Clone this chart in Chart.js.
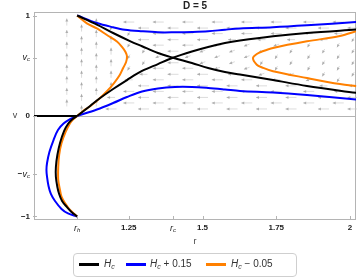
<!DOCTYPE html>
<html>
<head>
<meta charset="utf-8">
<script src="https://cdn.jsdelivr.net/npm/chart.js@4.4.1/dist/chart.umd.min.js"></script>
<style>
  body { margin: 0; background: #fff; }
  #wrap { position: relative; width: 357px; height: 278px; }
  #legend { position: absolute; left: 73px; top: 253px; width: 222px; height: 22px;
            border: 1px solid #cfcfcf; border-radius: 4px;
            font: 10px 'Liberation Sans', Arial, sans-serif; color: #333; }
  .item { position: absolute; top: 4px; white-space: nowrap; line-height: 12px; }
  .sw { position: absolute; top: 9px; width: 20px; height: 3px; }
  sub { font-size: 7px; vertical-align: -2px; line-height: 0; }
</style>
</head>
<body>
<div id="wrap">
  <canvas id="c"></canvas>
  <div id="legend">
    <span class="sw" style="left:5px;background:#000"></span>
    <span class="item" style="left:30px"><i>H</i><sub><i>c</i></sub></span>
    <span class="sw" style="left:52px;background:#0000ff"></span>
    <span class="item" style="left:76px"><i>H</i><sub><i>c</i></sub> + 0.15</span>
    <span class="sw" style="left:132px;background:#ff8000"></span>
    <span class="item" style="left:157px"><i>H</i><sub><i>c</i></sub> &minus; 0.05</span>
  </div>
</div>
<script>
// special points
const rH = 1.075, rC = 1.40, vC = 0.58;

// tick labels ("_" starts a subscript)
const xTickValues = [rH, 1.25, rC, 1.5, 1.75, 2];
const xTickLabels = ['r_h', '1.25', 'r_c', '1.5', '1.75', '2'];
const yTickValues = [1, vC, 0, -vC, -1];
const yTickLabels = ['1', 'v_c', '0', '\u2212v_c', '\u22121'];

// H = Hc curves (r, v)
const hcDown = [[1.075,1],[1.142,0.910],[1.197,0.826],[1.254,0.746],[1.295,0.694],[1.349,0.627],[1.400,0.580],
  [1.464,0.527],[1.519,0.478],[1.576,0.438],[1.627,0.413],[1.739,0.358],[1.854,0.299],[2.024,0.229]];
const hcUp = [[1.075,0],[1.119,0.100],[1.153,0.179],[1.197,0.269],[1.244,0.358],[1.295,0.448],[1.349,0.517],[1.400,0.580],
  [1.464,0.642],[1.519,0.687],[1.576,0.726],[1.627,0.751],[1.739,0.793],[1.854,0.826],[2.024,0.861]];
const hcLow = [[1.075,0],[1.058,-0.035],[1.045,-0.075],[1.031,-0.149],[1.017,-0.269],[1.008,-0.388],[1.003,-0.507],
  [1.003,-0.607],[1.008,-0.706],[1.014,-0.776],[1.024,-0.846],[1.040,-0.905],[1.054,-0.950],[1.075,-1]];
const hcAxis = [[0.9288,0],[1.075,0]];

// H = Hc + 0.15
const hpTop = [[1.075,1],[1.142,0.925],[1.197,0.883],[1.237,0.859],[1.295,0.843],[1.349,0.833],[1.407,0.833],
  [1.464,0.836],[1.519,0.843],[1.576,0.859],[1.627,0.871],[1.739,0.883],[1.854,0.902],[2.024,0.935]];
const hpMid = [[1.075,0],[1.142,0.065],[1.197,0.129],[1.244,0.189],[1.295,0.244],[1.349,0.274],[1.407,0.289],
  [1.464,0.289],[1.519,0.279],[1.576,0.264],[1.627,0.249],[1.739,0.234],[1.854,0.209],[2.024,0.164]];
const hpLow = [[1.075,0],[1.051,-0.030],[1.029,-0.075],[1.010,-0.139],[0.995,-0.239],[0.981,-0.358],[0.973,-0.468],
  [0.971,-0.537],[0.973,-0.607],[0.978,-0.697],[0.986,-0.776],[1.000,-0.846],[1.022,-0.925],[1.044,-0.970],[1.075,-1]];

// H = Hc - 0.05
const hmLoop = [[1.075,1],[1.108,0.922],[1.142,0.871],[1.176,0.806],[1.210,0.741],[1.227,0.687],[1.239,0.637],
  [1.244,0.592],[1.241,0.537],[1.231,0.478],[1.220,0.411],[1.200,0.328],[1.176,0.246],[1.149,0.169],[1.119,0.097],
  [1.095,0.050],[1.075,0]];
const hmRight = [[2.024,0.846],[1.966,0.796],[1.854,0.743],[1.739,0.677],[1.702,0.642],[1.684,0.617],[1.671,0.577],
  [1.684,0.510],[1.702,0.483],[1.739,0.445],[1.854,0.378],[1.966,0.318],[2.024,0.296]];
const hmLow = [[1.075,0],[1.061,-0.035],[1.051,-0.073],[1.036,-0.159],[1.022,-0.272],[1.014,-0.388],[1.011,-0.504],
  [1.011,-0.637],[1.017,-0.736],[1.022,-0.803],[1.034,-0.866],[1.051,-0.935],[1.075,-1]];

// vector field samples: columns in r, staggered rows in v, one code per arrow
const arrowR = [1.04,1.09,1.14,1.19,1.25,1.30,1.35,1.40,1.45,1.50,1.55,1.60,1.65,1.70,1.75,1.80,1.86,1.91,1.96,2.01];
const arrowVEven = [0.935,0.82,0.705,0.59,0.475,0.36,0.245,0.13];
const arrowVOdd = [0.875,0.76,0.645,0.53,0.415,0.30,0.185,0.07];
const arrowCodes = ['dddddddd','dddddddd','dddddddd','adddddml','laaaamll','llaamlll','lllsllll','llllllll',
  'lllsllll','llssllll','llmsslll','lmssmlll','llssslll','lmsaslll','llsaamll','lmaaslll','lmaaasll',
  'lmaaamll','lmaaaaml','laaaamll'];

const arrowStyle = {
  d: { angle: 270, len: 7 },
  l: { angle: 180, len: 11 },
  m: { angle: 180, len: 8 },
  s: { angle: 160, len: 6 },
  a: { angle: 120, len: 5 }
};

function drawArrow(ctx, cx, cy, angle, len) {
  const t = angle * Math.PI / 180, dx = Math.cos(t), dy = Math.sin(t);
  const tx = cx + dx * len / 2, ty = cy + dy * len / 2;
  ctx.strokeStyle = 'rgba(200,200,200,0.65)';
  ctx.lineWidth = 1;
  ctx.beginPath();
  ctx.moveTo(cx - dx * len / 2, cy - dy * len / 2);
  ctx.lineTo(tx, ty);
  ctx.stroke();
  ctx.fillStyle = 'rgba(150,150,150,0.7)';
  ctx.beginPath();
  ctx.moveTo(tx, ty);
  ctx.lineTo(tx - dx * 3 - dy * 1.5, ty - dy * 3 + dx * 1.5);
  ctx.lineTo(tx - dx * 3 + dy * 1.5, ty - dy * 3 - dx * 1.5);
  ctx.closePath();
  ctx.fill();
}

// label with optional italic letter + subscript
function drawLabel(ctx, text, x, y, align) {
  let parts;
  const k = text.indexOf('_');
  if (k < 0) {
    parts = [{ t: text, f: "bold 8px 'Liberation Sans', Arial, sans-serif", dy: 0 }];
  } else {
    const pre = text.slice(0, k - 1), letter = text[k - 1], sub = text.slice(k + 1);
    parts = [];
    if (pre) parts.push({ t: pre, f: "bold 8px 'Liberation Sans', Arial, sans-serif", dy: 0 });
    parts.push({ t: letter, f: "italic 9px 'Liberation Sans', Arial, sans-serif", dy: 0 });
    parts.push({ t: sub, f: "italic 6px 'Liberation Sans', Arial, sans-serif", dy: 2 });
  }
  let w = 0;
  parts.forEach(p => { ctx.font = p.f; p.w = ctx.measureText(p.t).width; w += p.w; });
  let sx = align === 'right' ? x - w : x - w / 2;
  ctx.textBaseline = 'middle';
  ctx.textAlign = 'left';
  parts.forEach(p => { ctx.font = p.f; ctx.fillText(p.t, sx, y + p.dy); sx += p.w; });
}

const fieldPlugin = {
  id: 'field',
  beforeDatasetsDraw(chart) {
    const { ctx, chartArea: a, scales: { x, y } } = chart;
    ctx.save();
    ctx.strokeStyle = '#b4b4b4';
    ctx.lineWidth = 1;
    ctx.strokeRect(a.left + 0.5, a.top + 0.5, a.right - a.left - 1, a.bottom - a.top - 1);
    const y0 = Math.round(y.getPixelForValue(0)) + 0.5;
    ctx.beginPath(); ctx.moveTo(a.left, y0); ctx.lineTo(a.right, y0); ctx.stroke();
    arrowR.forEach((r, i) => {
      const rows = i % 2 ? arrowVOdd : arrowVEven;
      rows.forEach((v, j) => {
        const st = arrowStyle[arrowCodes[i][j]];
        if (!st) return;
        drawArrow(ctx, x.getPixelForValue(r), y.getPixelForValue(v), st.angle, st.len);
      });
    });
    ctx.restore();
  },
  afterDraw(chart) {
    const { ctx, chartArea: a, scales: { x, y } } = chart;
    ctx.save();
    ctx.strokeStyle = '#b4b4b4';
    ctx.lineWidth = 1;
    xTickValues.forEach(v => {
      const px = Math.round(x.getPixelForValue(v)) + 0.5;
      ctx.beginPath(); ctx.moveTo(px, a.bottom); ctx.lineTo(px, a.bottom - 4); ctx.stroke();
    });
    yTickValues.forEach(v => {
      const py = Math.round(y.getPixelForValue(v)) + 0.5;
      ctx.beginPath(); ctx.moveTo(a.left - 1, py); ctx.lineTo(a.left + 3, py); ctx.stroke();
    });
    ctx.fillStyle = '#222';
    xTickValues.forEach((v, i) => drawLabel(ctx, xTickLabels[i], x.getPixelForValue(v), a.bottom + 8, 'center'));
    yTickValues.forEach((v, i) => drawLabel(ctx, yTickLabels[i], a.left - 4, y.getPixelForValue(v), 'right'));
    ctx.textAlign = 'center';
    ctx.textBaseline = 'middle';
    ctx.font = "bold 10px 'Liberation Sans', Arial, sans-serif";
    ctx.fillText('D = 5', (a.left + a.right) / 2, 6);
    ctx.fillStyle = '#444';
    ctx.font = "9px 'Liberation Sans', Arial, sans-serif";
    ctx.fillText('v', 15, y.getPixelForValue(0));
    ctx.fillText('r', (a.left + a.right) / 2, a.bottom + 22);
    ctx.restore();
  }
};

function curve(points, color) {
  return {
    data: points.map(([r, v]) => ({ x: r, y: v })),
    showLine: true, borderColor: color, borderWidth: 2,
    pointRadius: 0, tension: 0.35, fill: false
  };
}

new Chart(document.getElementById('c'), {
  type: 'scatter',
  data: {
    datasets: [
      curve(hcDown, '#000'), curve(hcUp, '#000'), curve(hcLow, '#000'), curve(hcAxis, '#000'),
      curve(hmLoop, '#ff8000'), curve(hmRight, '#ff8000'), curve(hmLow, '#ff8000'),
      curve(hpTop, '#0000ff'), curve(hpMid, '#0000ff'), curve(hpLow, '#0000ff')
    ]
  },
  options: {
    responsive: true,
    maintainAspectRatio: false,
    animation: false,
    events: [],
    layout: { padding: { left: 34, top: 12, right: 1, bottom: 58 } },
    plugins: { legend: { display: false }, tooltip: { enabled: false } },
    scales: {
      x: { type: 'linear', min: 0.9288, max: 2.0203, display: false },
      y: { type: 'linear', min: -1.035, max: 1.035, display: false }
    }
  },
  plugins: [fieldPlugin]
});
</script>
</body>
</html>
